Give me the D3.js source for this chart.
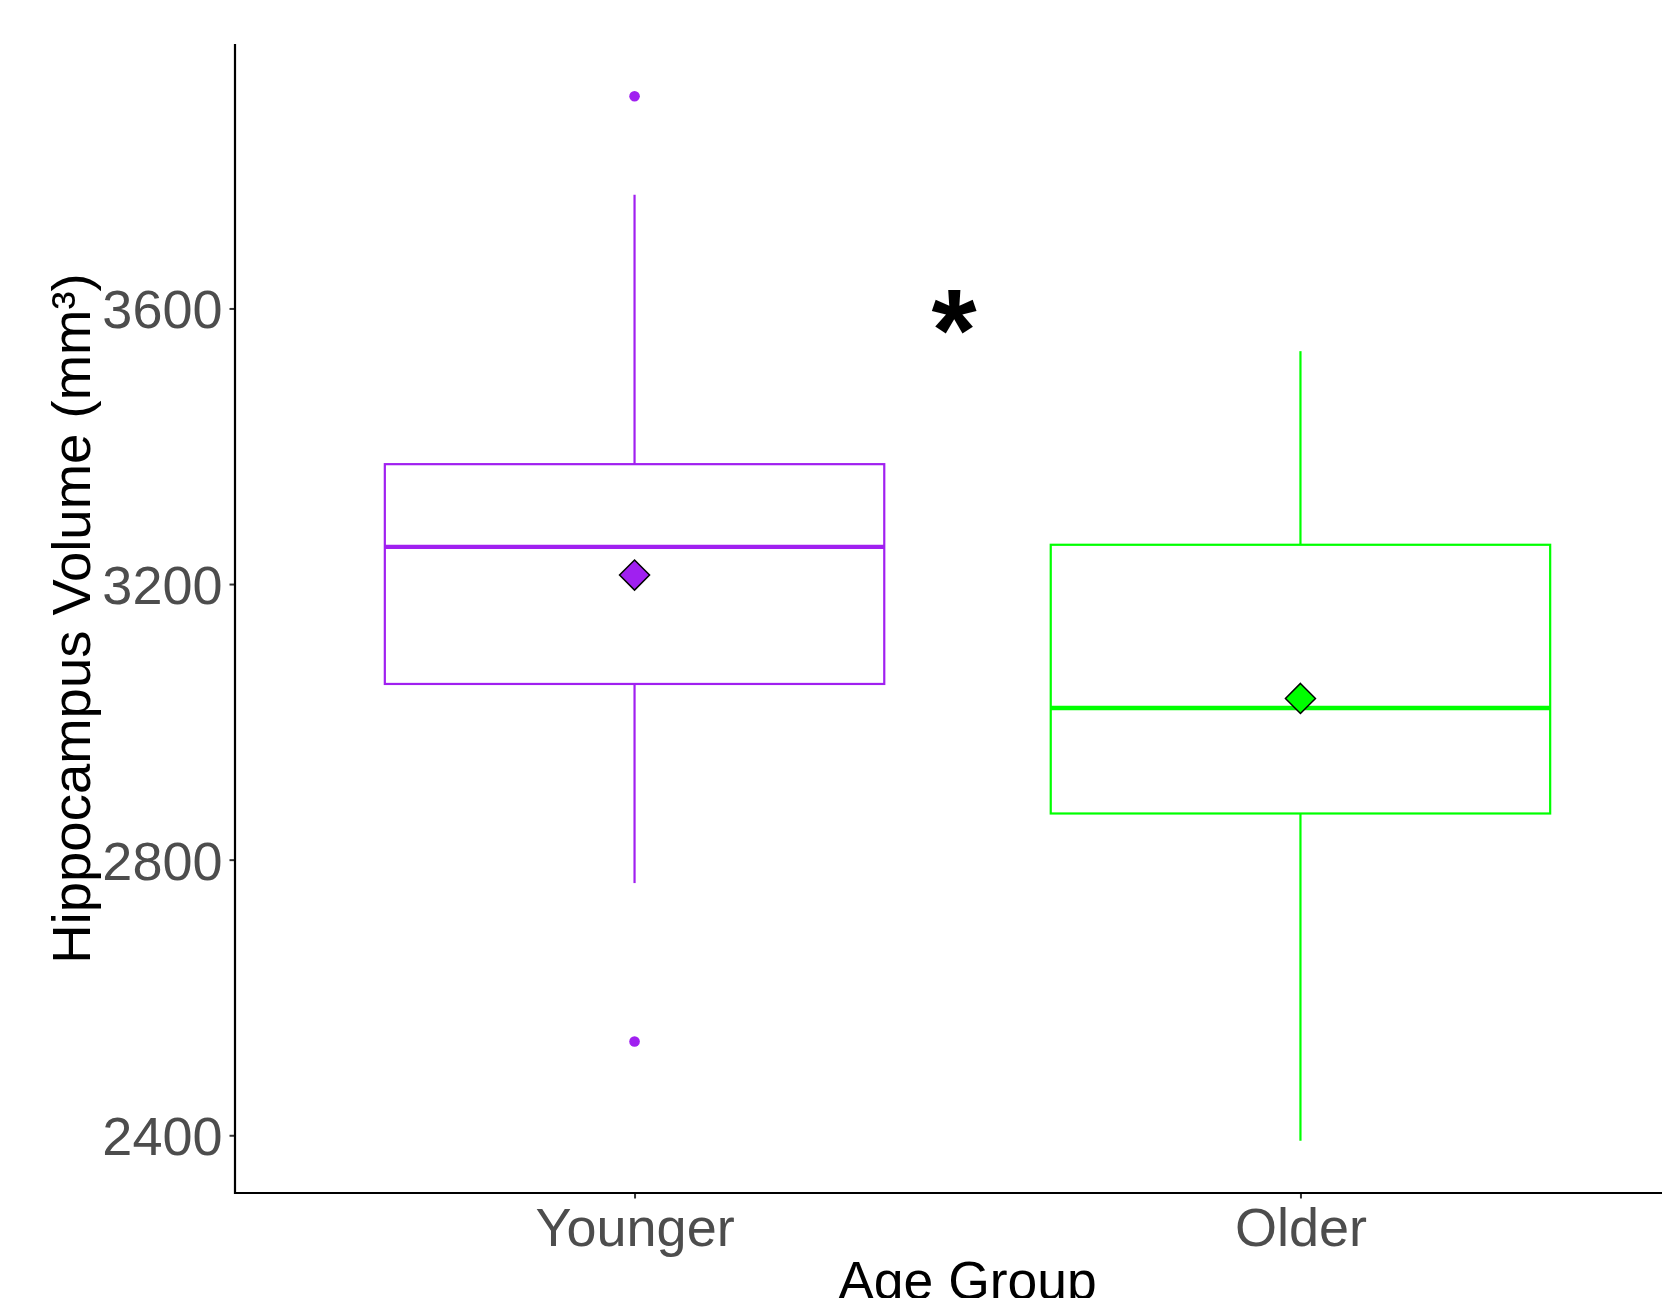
<!DOCTYPE html>
<html>
<head>
<meta charset="utf-8">
<script src="https://cdn.jsdelivr.net/npm/d3@7"></script>
<style>
  html, body { margin: 0; padding: 0; background: #ffffff; }
  svg { display: block; }
  text { font-family: "Liberation Sans", Arial, Helvetica, sans-serif; }
</style>
</head>
<body>
<svg id="chart" width="1662" height="1298"></svg>
<script>
// Hippocampus volume (mm³) by age group: box summaries, outliers and group means
const groups   = ["Younger", "Older"];
const colors   = ["#A020F0", "#00FF00"];
const whiskerLo = [2766, 2392];
const q1        = [3055, 2867];
const median    = [3254, 3020];
const q3        = [3374, 3257];
const whiskerHi = [3765, 3538];
const means     = [3213, 3034];
const outliers  = [[3908, 2536], []];
const yTicks    = [2400, 2800, 3200, 3600];
const xTitle = "Age Group";
const yTitle = "Hippocampus Volume (mm³)";
const signif = "*";

const W = 1662, H = 1298;
const panel = { left: 235, right: 1700, top: 44, bottom: 1193 };

const svg = d3.select("#chart");

// y scale: data extent expanded by 5% on each side
const allVals = whiskerLo.concat(whiskerHi, outliers.flat());
const lo = d3.min(allVals), hi = d3.max(allVals);
const pad = (hi - lo) * 0.05;
const y = d3.scaleLinear().domain([lo - pad, hi + pad]).range([panel.bottom, panel.top]);

// discrete x scale with 0.6 step expansion on each side
const x = d3.scalePoint().domain(groups).range([panel.left, panel.right]).padding(0.6);
const boxW = x.step() * 0.75;

const data = groups.map((g, i) => ({
  g, color: colors[i], lo: whiskerLo[i], q1: q1[i], med: median[i], q3: q3[i],
  hi: whiskerHi[i], mean: means[i], out: outliers[i]
}));

const plot = svg.append("g");

const box = plot.selectAll("g.box").data(data).enter().append("g").attr("class", "box");

// whiskers
box.append("line")
  .attr("x1", d => x(d.g)).attr("x2", d => x(d.g))
  .attr("y1", d => y(d.q3)).attr("y2", d => y(d.hi))
  .attr("stroke", d => d.color).attr("stroke-width", 2.2);
box.append("line")
  .attr("x1", d => x(d.g)).attr("x2", d => x(d.g))
  .attr("y1", d => y(d.q1)).attr("y2", d => y(d.lo))
  .attr("stroke", d => d.color).attr("stroke-width", 2.2);

// interquartile boxes
box.append("rect")
  .attr("x", d => x(d.g) - boxW / 2).attr("width", boxW)
  .attr("y", d => y(d.q3)).attr("height", d => y(d.q1) - y(d.q3))
  .attr("fill", "#ffffff").attr("stroke", d => d.color).attr("stroke-width", 2.2);

// medians
box.append("line")
  .attr("x1", d => x(d.g) - boxW / 2).attr("x2", d => x(d.g) + boxW / 2)
  .attr("y1", d => y(d.med)).attr("y2", d => y(d.med))
  .attr("stroke", d => d.color).attr("stroke-width", 4.4);

// outliers
box.selectAll("circle").data(d => d.out.map(v => ({ v, g: d.g, color: d.color }))).enter()
  .append("circle")
  .attr("cx", d => x(d.g)).attr("cy", d => y(d.v)).attr("r", 5.3)
  .attr("fill", d => d.color);

// group means as diamonds
const dsz = 15;
box.append("path")
  .attr("d", d => {
    const cx = x(d.g), cy = y(d.mean);
    return `M${cx},${cy - dsz}L${cx + dsz},${cy}L${cx},${cy + dsz}L${cx - dsz},${cy}Z`;
  })
  .attr("fill", d => d.color).attr("stroke", "#000000").attr("stroke-width", 1.5);

// significance marker
svg.append("text")
  .attr("x", 954).attr("y", 371)
  .attr("text-anchor", "middle")
  .attr("font-size", 116).attr("font-weight", "bold").attr("fill", "#000000")
  .text(signif);

// y axis
const yAxis = svg.append("g").attr("transform", `translate(${panel.left},0)`)
  .call(d3.axisLeft(y).tickValues(yTicks).tickSize(5.5).tickPadding(7).tickFormat(d3.format("d")));
yAxis.select(".domain").remove();
yAxis.selectAll(".tick line").attr("stroke", "#333333").attr("stroke-width", 2);
yAxis.selectAll(".tick text")
  .attr("font-size", 54).attr("fill", "#4D4D4D")
  .attr("font-family", "'Liberation Sans', Arial, sans-serif")
  .attr("dy", "0.36em");

// x axis
const xAxis = svg.append("g").attr("transform", `translate(0,${panel.bottom})`)
  .call(d3.axisBottom(x).tickSize(5.5).tickPadding(9));
xAxis.select(".domain").remove();
xAxis.selectAll(".tick line").attr("stroke", "#333333").attr("stroke-width", 2);
xAxis.selectAll(".tick text")
  .attr("font-size", 54).attr("fill", "#4D4D4D")
  .attr("font-family", "'Liberation Sans', Arial, sans-serif")
  .attr("dy", "0.71em");

// axis lines
svg.append("line")
  .attr("x1", panel.left).attr("x2", panel.left)
  .attr("y1", panel.top).attr("y2", panel.bottom + 1)
  .attr("stroke", "#000000").attr("stroke-width", 2.2);
svg.append("line")
  .attr("x1", panel.left - 1).attr("x2", panel.right)
  .attr("y1", panel.bottom).attr("y2", panel.bottom)
  .attr("stroke", "#000000").attr("stroke-width", 2.2);

// axis titles
svg.append("text")
  .attr("x", (panel.left + panel.right) / 2).attr("y", 1299)
  .attr("text-anchor", "middle").attr("font-size", 53.5).attr("fill", "#000000")
  .text(xTitle);
svg.append("text")
  .attr("transform", `translate(90,${(panel.top + panel.bottom) / 2}) rotate(-90)`)
  .attr("text-anchor", "middle").attr("font-size", 54.5).attr("fill", "#000000")
  .text(yTitle);
</script>
</body>
</html>
